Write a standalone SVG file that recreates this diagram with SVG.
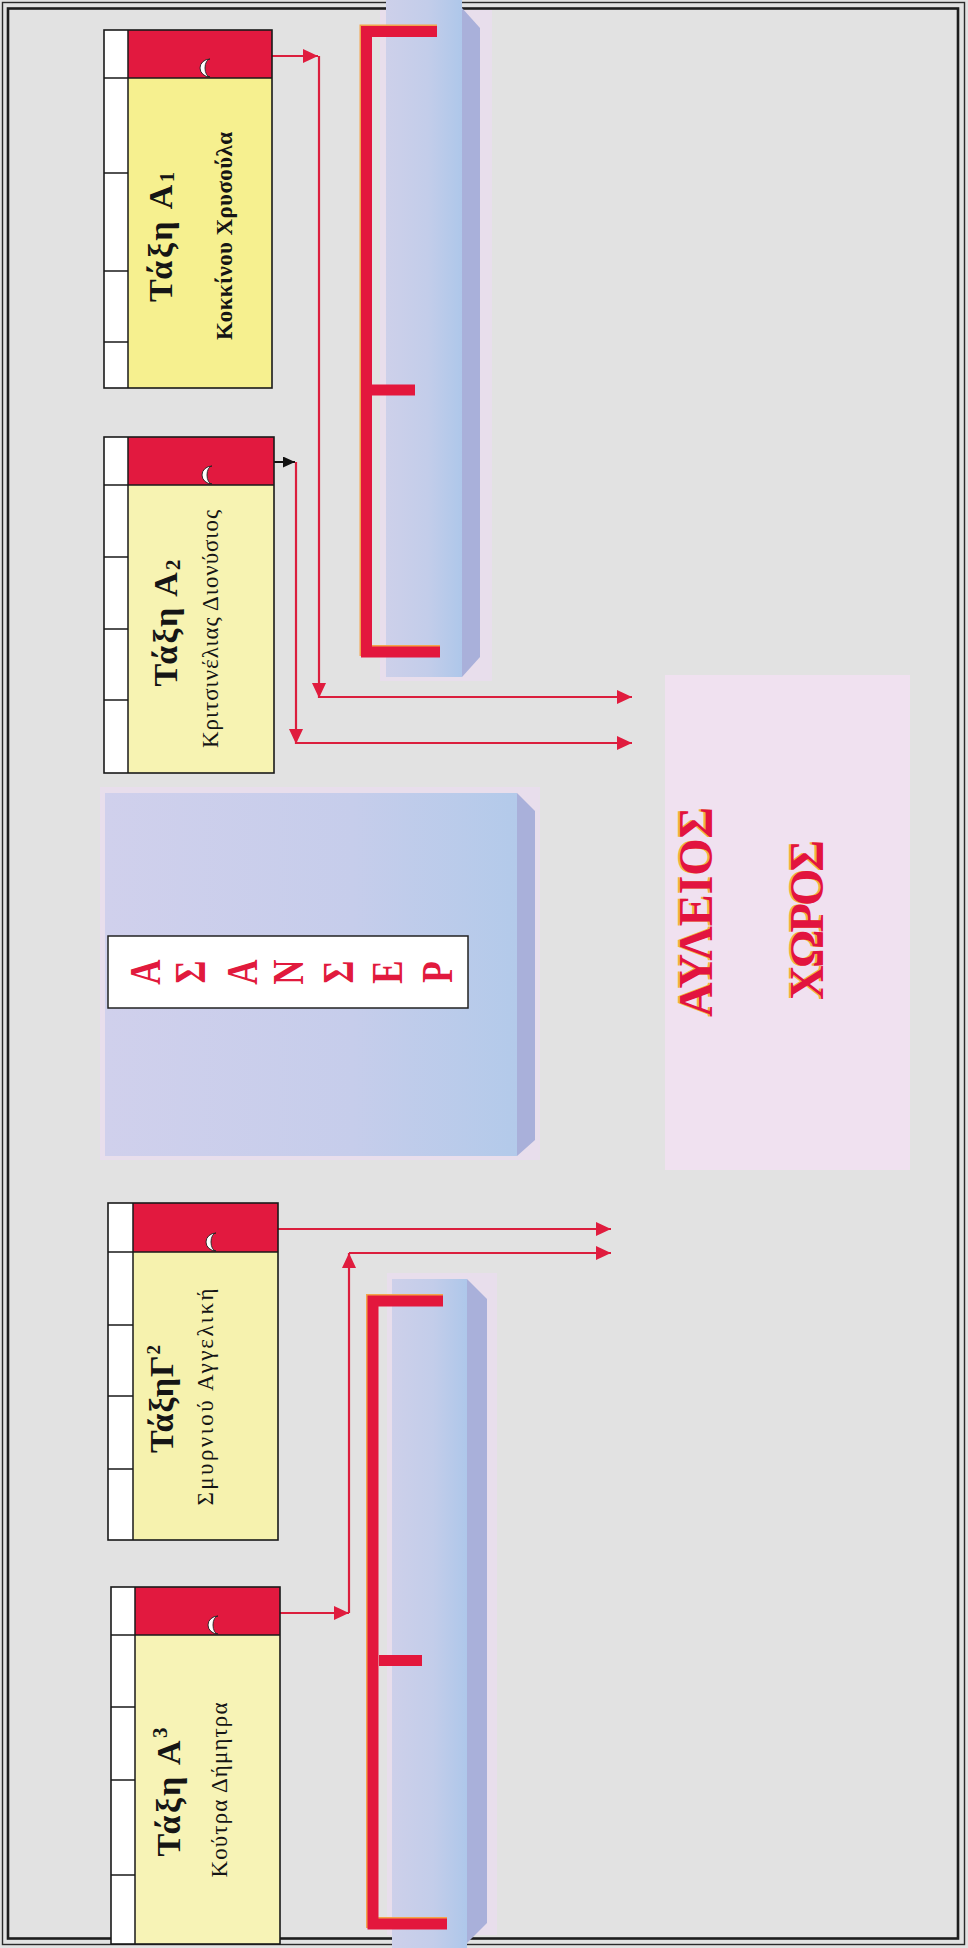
<svg xmlns="http://www.w3.org/2000/svg" width="968" height="1948" viewBox="0 0 968 1948">
<defs>
<style>
.frame{fill:none;stroke:#1a1a1a;stroke-width:1.6}
.div{fill:none;stroke:#1a1a1a;stroke-width:1.5}
.red{fill:#e2193f}
.door{fill:#ffffff;stroke:#222222;stroke-width:0.9}
.title{font-family:"Liberation Serif","Times New Roman",serif;font-weight:bold;font-size:34px;fill:#151515}
.name{font-family:"Liberation Serif","Times New Roman",serif;font-size:23px;fill:#151515}
.conn{fill:none;stroke:#db1e3d;stroke-width:2.2}
.brk{fill:none;stroke:#e3173d;stroke-width:11;stroke-linejoin:miter}
.brksh{fill:none;stroke:#f3a44a;stroke-width:11;stroke-linejoin:miter}
.big{font-family:"Liberation Serif","Times New Roman",serif;font-weight:bold;font-size:48px;fill:#e2143f}
.bigsh{font-family:"Liberation Serif","Times New Roman",serif;font-weight:bold;font-size:48px;fill:#f4b53a}
.asn{font-family:"Liberation Serif","Times New Roman",serif;font-weight:bold;font-size:35px;fill:#e11a3d}
.halo{fill:#e8deec}
.side{fill:#a9b0da}
</style>
<linearGradient id="colG" x1="0" y1="0" x2="1" y2="0">
<stop offset="0" stop-color="#cdd0ea"/>
<stop offset="0.55" stop-color="#c3cdea"/>
<stop offset="1" stop-color="#aec7ea"/>
</linearGradient>
<linearGradient id="elvG" x1="0" y1="0" x2="1" y2="0">
<stop offset="0" stop-color="#d0d0ec"/>
<stop offset="0.6" stop-color="#c6cdeb"/>
<stop offset="1" stop-color="#b3caea"/>
</linearGradient>
<marker id="ah" viewBox="0 0 15 14" refX="15" refY="7" markerWidth="15" markerHeight="14" markerUnits="userSpaceOnUse" orient="auto"><path d="M0,0 L15,7 L0,14 Z" fill="#e01c3e"/></marker>
<marker id="ahk" viewBox="0 0 12 11" refX="12" refY="5.5" markerWidth="12" markerHeight="11" markerUnits="userSpaceOnUse" orient="auto"><path d="M0,0 L12,5.5 L0,11 Z" fill="#111111"/></marker>
<path id="doorP" d="M3,-9 A10,9 0 0 0 3,9 A5,9 0 0 1 3,-9 Z"/>
</defs>

<rect x="0" y="0" width="968" height="1948" fill="#e2e2e2"/>

<g id="border">
<rect x="2.5" y="2.5" width="962" height="1942" fill="none" stroke="#2a2a2a" stroke-width="1.4"/>
<rect x="8" y="8.5" width="950" height="1930" fill="none" stroke="#1d1d1d" stroke-width="2.6"/>
</g>

<g id="corridor-top">
<rect class="halo" x="380" y="10" width="112" height="671"/>
<rect x="386" y="0" width="76" height="677" fill="url(#colG)"/>
<polygon class="side" points="462,8 480,28 480,657 462,677"/>
<path class="brksh" d="M437,30 H365 V650.5 H440"/>
<path class="brk" d="M437,31.5 H366.5 V652 H440"/>
<path class="brk" d="M372,390 H415" stroke-width="6"/>
</g>

<g id="corridor-bottom">
<rect class="halo" x="387" y="1273" width="110" height="662"/>
<rect x="392" y="1279" width="75" height="669" fill="url(#colG)"/>
<polygon class="side" points="467,1279 487,1299 487,1923 467,1943"/>
<path class="brksh" d="M443,1299.5 H371.5 V1922.5 H447"/>
<path class="brk" d="M443,1301 H373 V1924 H447"/>
<path class="brk" d="M379,1660.5 H422" stroke-width="7"/>
</g>

<g id="elevator">
<rect class="halo" x="100" y="787" width="440" height="373"/>
<rect x="105" y="793" width="412" height="363" fill="url(#elvG)"/>
<polygon class="side" points="517,793 535,811 535,1140 517,1156"/>
<rect x="108" y="936" width="360" height="72" fill="#ffffff" stroke="#222222" stroke-width="1.5"/>
<text class="asn" text-anchor="middle" transform="translate(160,972) rotate(-90) scale(1,1.25)">Α</text>
<text class="asn" text-anchor="middle" transform="translate(205,972) rotate(-90) scale(1,1.25)">Σ</text>
<text class="asn" text-anchor="middle" transform="translate(257,972) rotate(-90) scale(1,1.25)">Α</text>
<text class="asn" text-anchor="middle" transform="translate(303,972) rotate(-90) scale(1,1.25)">Ν</text>
<text class="asn" text-anchor="middle" transform="translate(353,972) rotate(-90) scale(1,1.25)">Σ</text>
<text class="asn" text-anchor="middle" transform="translate(402,972) rotate(-90) scale(1,1.25)">Ε</text>
<text class="asn" text-anchor="middle" transform="translate(452,972) rotate(-90) scale(1,1.25)">Ρ</text>
</g>

<g id="courtyard">
<rect x="665" y="675" width="245" height="495" fill="#f0e1f0"/>
<text class="bigsh" text-anchor="middle" textLength="210" transform="translate(710,912) rotate(-90)">ΑΥΛΕΙΟΣ</text>
<text class="big" text-anchor="middle" textLength="210" transform="translate(712,912) rotate(-90)">ΑΥΛΕΙΟΣ</text>
<text class="bigsh" text-anchor="middle" textLength="160" transform="translate(821,920) rotate(-90)">ΧΩΡΟΣ</text>
<text class="big" text-anchor="middle" textLength="160" transform="translate(823,920) rotate(-90)">ΧΩΡΟΣ</text>
</g>

<g id="connectors">
<path class="conn" d="M272,56 H318" marker-end="url(#ah)"/>
<path class="conn" d="M319,56 V698" marker-end="url(#ah)"/>
<path class="conn" d="M319,697 H632" marker-end="url(#ah)"/>
<path d="M274,462 H295" fill="none" stroke="#111111" stroke-width="2" marker-end="url(#ahk)"/>
<path class="conn" d="M296,462 V744" marker-end="url(#ah)"/>
<path class="conn" d="M296,743 H632" marker-end="url(#ah)"/>
<path class="conn" d="M278,1229 H611" marker-end="url(#ah)"/>
<path class="conn" d="M280,1613 H349" marker-end="url(#ah)"/>
<path class="conn" d="M349,1613 V1253" marker-end="url(#ah)"/>
<path class="conn" d="M349,1253 H611" marker-end="url(#ah)"/>
</g>

<g id="class-a1">
<rect x="104" y="30" width="24" height="358" fill="#ffffff"/>
<rect class="red" x="128" y="30" width="144" height="48"/>
<rect x="128" y="78" width="144" height="310" fill="#f6f08f"/>
<rect class="frame" x="104" y="30" width="168" height="358"/>
<path class="div" d="M128,30V388 M104,78H272 M104,173H128 M104,271H128 M104,342H128"/>
<use href="#doorP" class="door" x="207" y="68"/>
<text class="title" text-anchor="middle" textLength="130" transform="translate(172,237) rotate(-90)">Τάξη Α<tspan font-size="20" dy="2">1</tspan></text>
<text class="name" font-weight="bold" text-anchor="middle" textLength="208" transform="translate(232,236) rotate(-90)">Κοκκίνου Χρυσούλα</text>
</g>

<g id="class-a2">
<rect x="104" y="437" width="24" height="336" fill="#ffffff"/>
<rect class="red" x="128" y="437" width="146" height="48"/>
<rect x="128" y="485" width="146" height="288" fill="#f7f3b2"/>
<rect class="frame" x="104" y="437" width="170" height="336"/>
<path class="div" d="M128,437V773 M104,485H274 M104,557H128 M104,629H128 M104,700H128"/>
<use href="#doorP" class="door" x="209" y="475"/>
<text class="title" text-anchor="middle" textLength="127" transform="translate(177,623) rotate(-90)">Τάξη Α<tspan font-size="21" dy="3">2</tspan></text>
<text class="name" font-size="24" text-anchor="middle" textLength="238" transform="translate(218,629) rotate(-90)">Κριτσινέλιας Διονύσιος</text>
</g>

<g id="class-g2">
<rect x="108" y="1203" width="25" height="337" fill="#ffffff"/>
<rect class="red" x="133" y="1203" width="145" height="49"/>
<rect x="133" y="1252" width="145" height="288" fill="#f6f2ae"/>
<rect class="frame" x="108" y="1203" width="170" height="337"/>
<path class="div" d="M133,1203V1540 M108,1252H278 M108,1325H133 M108,1396H133 M108,1469H133"/>
<use href="#doorP" class="door" x="213" y="1242"/>
<text class="title" text-anchor="middle" textLength="108" transform="translate(173,1399) rotate(-90)">ΤάξηΓ<tspan font-size="19" dy="-13">2</tspan></text>
<text class="name" font-size="24" text-anchor="middle" textLength="217" transform="translate(213,1397) rotate(-90)">Σμυρνιού Αγγελική</text>
</g>

<g id="class-a3">
<rect x="111" y="1587" width="24" height="357" fill="#ffffff"/>
<rect class="red" x="135" y="1587" width="145" height="48"/>
<rect x="135" y="1635" width="145" height="309" fill="#f7f3b6"/>
<rect class="frame" x="111" y="1587" width="169" height="357"/>
<path class="div" d="M135,1587V1944 M111,1635H280 M111,1707H135 M111,1780H135 M111,1875H135"/>
<use href="#doorP" class="door" x="215" y="1625"/>
<text class="title" text-anchor="middle" textLength="129" transform="translate(180,1792) rotate(-90)">Τάξη Α<tspan font-size="21" dy="-13">3</tspan></text>
<text class="name" font-size="24" text-anchor="middle" textLength="175" transform="translate(227,1790) rotate(-90)">Κούτρα Δήμητρα</text>
</g>
</svg>
